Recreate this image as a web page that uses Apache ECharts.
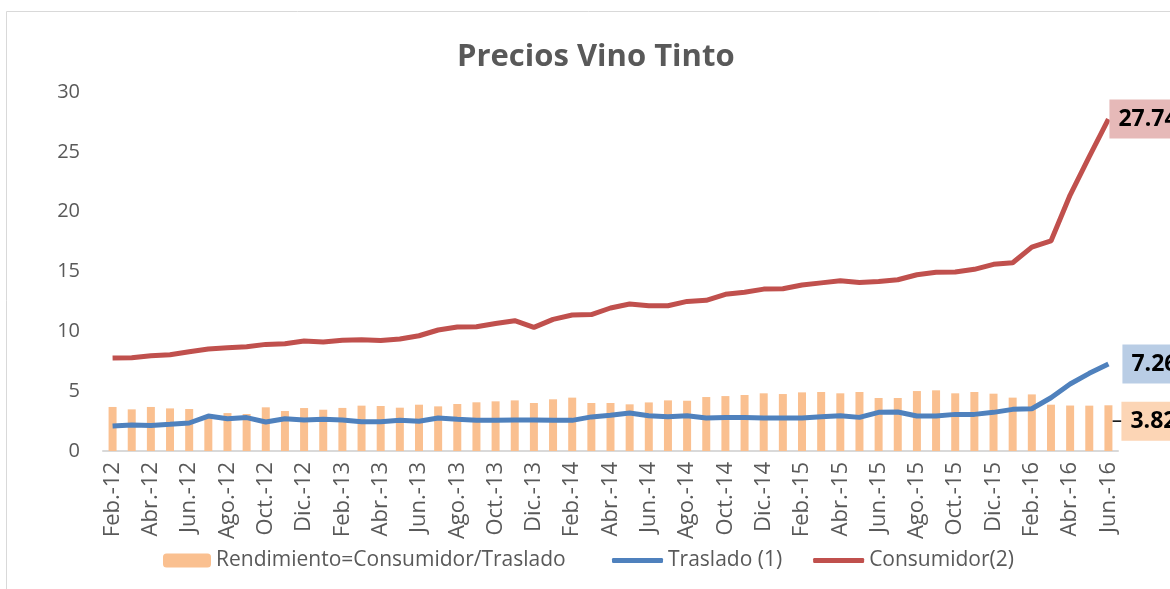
<!DOCTYPE html>
<html>
<head>
<meta charset="utf-8">
<script src="https://cdn.jsdelivr.net/npm/echarts@6/dist/echarts.min.js"></script>
<style>
  html, body { margin: 0; padding: 0; background: #fff; }
  #chart01 { width: 1170px; height: 589px; }
</style>
</head>
<body>
<div id="chart01"></div>
<script>
// datos mensuales Feb.-12 .. Jun.-16
var meses = [
  "Feb.-12", "Mar.-12", "Abr.-12", "May.-12", "Jun.-12", "Jul.-12", "Ago.-12", "Sep.-12", "Oct.-12", "Nov.-12", "Dic.-12", "Ene.-13",
  "Feb.-13", "Mar.-13", "Abr.-13", "May.-13", "Jun.-13", "Jul.-13", "Ago.-13", "Sep.-13", "Oct.-13", "Nov.-13", "Dic.-13", "Ene.-14",
  "Feb.-14", "Mar.-14", "Abr.-14", "May.-14", "Jun.-14", "Jul.-14", "Ago.-14", "Sep.-14", "Oct.-14", "Nov.-14", "Dic.-14", "Ene.-15",
  "Feb.-15", "Mar.-15", "Abr.-15", "May.-15", "Jun.-15", "Jul.-15", "Ago.-15", "Sep.-15", "Oct.-15", "Nov.-15", "Dic.-15", "Ene.-16",
  "Feb.-16", "Mar.-16", "Abr.-16", "May.-16", "Jun.-16"
];

var rendimiento = [
  3.68, 3.48, 3.68, 3.56, 3.51, 2.95, 3.17, 3.09, 3.65, 3.34, 3.59, 3.45,
  3.60, 3.79, 3.76, 3.62, 3.87, 3.73, 3.93, 4.07, 4.15, 4.23, 4.01, 4.32,
  4.46, 4.01, 4.01, 3.90, 4.06, 4.23, 4.20, 4.51, 4.59, 4.68, 4.82, 4.76,
  4.90, 4.93, 4.82, 4.93, 4.43, 4.43, 5.01, 5.07, 4.82, 4.93, 4.79, 4.46,
  4.73, 3.87, 3.80, 3.79, 3.82
];

var traslado = [
  2.09, 2.17, 2.14, 2.23, 2.34, 2.92, 2.70, 2.79, 2.42, 2.70, 2.59, 2.65,
  2.59, 2.45, 2.45, 2.56, 2.48, 2.76, 2.65, 2.56, 2.56, 2.59, 2.59, 2.56,
  2.56, 2.85, 2.98, 3.17, 2.95, 2.87, 2.95, 2.76, 2.79, 2.79, 2.76, 2.76,
  2.76, 2.86, 2.95, 2.81, 3.23, 3.26, 2.92, 2.92, 3.06, 3.06, 3.23, 3.48,
  3.53, 4.45, 5.60, 6.49, 7.26
];

var consumidor = [
  7.77, 7.80, 7.96, 8.05, 8.30, 8.52, 8.63, 8.72, 8.91, 8.97, 9.19, 9.11,
  9.26, 9.30, 9.24, 9.36, 9.63, 10.11, 10.36, 10.39, 10.66, 10.89, 10.33, 11.00,
  11.36, 11.40, 11.95, 12.28, 12.14, 12.14, 12.50, 12.59, 13.09, 13.26, 13.53, 13.56,
  13.87, 14.05, 14.23, 14.09, 14.17, 14.31, 14.73, 14.93, 14.95, 15.18, 15.60, 15.73,
  17.04, 17.55, 21.39, 24.59, 27.74
];

var fuente = "'Open Sans', 'Noto Sans', sans-serif";

// etiqueta recuadrada para el ultimo valor de cada serie
function etiqueta(fondo) {
  return {
    formatter: function (p) { return p.value.toFixed(2); },
    backgroundColor: fondo,
    padding: [8, 9],
    fontSize: 23,
    fontWeight: 'bold',
    color: '#000',
    fontFamily: fuente
  };
}

var barras = rendimiento.map(function (v, i) {
  if (i === rendimiento.length - 1) {
    var lb = etiqueta('#FCD5B5');
    lb.show = true;
    lb.position = 'right';
    lb.distance = 0;
    return { value: v, label: lb };
  }
  return v;
});

var lbTraslado = etiqueta('#B9CDE5');
lbTraslado.show = true;
lbTraslado.distance = 14;

var lbConsumidor = etiqueta('#E6B9B8');
lbConsumidor.show = true;
lbConsumidor.distance = 1;

var myChart01 = echarts.init(document.getElementById('chart01'));
var option = {
  animation: false,
  backgroundColor: '#fff',
  title: {
    text: 'Precios Vino Tinto',
    left: 452,
    top: 37,
    textStyle: { fontSize: 31, fontWeight: 'bold', color: '#595959', fontFamily: fuente }
  },
  graphic: [{
    type: 'rect',
    shape: { x: 6.5, y: 11.5, width: 1400, height: 800 },
    style: { fill: 'none', stroke: '#d9d9d9', lineWidth: 1 },
    silent: true
  }],
  legend: [
    {
      left: 158,
      top: 545,
      itemWidth: 48,
      itemHeight: 14,
      textStyle: { fontSize: 21, color: '#595959', fontFamily: fuente },
      data: ['Rendimiento=Consumidor/Traslado']
    },
    {
      left: 607,
      top: 545,
      itemWidth: 51,
      itemHeight: 5,
      itemGap: 31,
      icon: 'roundRect',
      textStyle: { fontSize: 21, color: '#595959', fontFamily: fuente },
      data: ['Traslado (1)', 'Consumidor(2)']
    }
  ],
  grid: { left: 103, right: 52, top: 92, bottom: 138 },
  xAxis: {
    type: 'category',
    data: meses,
    boundaryGap: true,
    axisLine: { lineStyle: { color: '#d9d9d9', width: 2 } },
    axisTick: { show: false },
    axisLabel: {
      interval: 1,
      rotate: 90,
      margin: 11,
      fontSize: 22,
      color: '#595959',
      fontFamily: fuente
    }
  },
  yAxis: {
    type: 'value',
    min: 0,
    max: 30,
    interval: 5,
    axisLine: { show: false },
    axisTick: { show: false },
    splitLine: { show: false },
    axisLabel: { margin: 23, fontSize: 20, color: '#595959', fontFamily: fuente }
  },
  series: [
    {
      name: 'Rendimiento=Consumidor/Traslado',
      type: 'bar',
      barWidth: 8,
      itemStyle: { color: '#FAC090' },
      labelLayout: { dx: 9, dy: -7 },
      labelLine: { show: true, lineStyle: { color: '#000', width: 1.5 } },
      data: barras
    },
    {
      name: 'Traslado (1)',
      type: 'line',
      showSymbol: false,
      symbol: 'none',
      lineStyle: { color: '#4F81BD', width: 5 },
      itemStyle: { color: '#4F81BD' },
      endLabel: lbTraslado,
      data: traslado
    },
    {
      name: 'Consumidor(2)',
      type: 'line',
      showSymbol: false,
      symbol: 'none',
      lineStyle: { color: '#C0504D', width: 5 },
      itemStyle: { color: '#C0504D' },
      endLabel: lbConsumidor,
      data: consumidor
    }
  ]
};
myChart01.setOption(option);
</script>
</body>
</html>
